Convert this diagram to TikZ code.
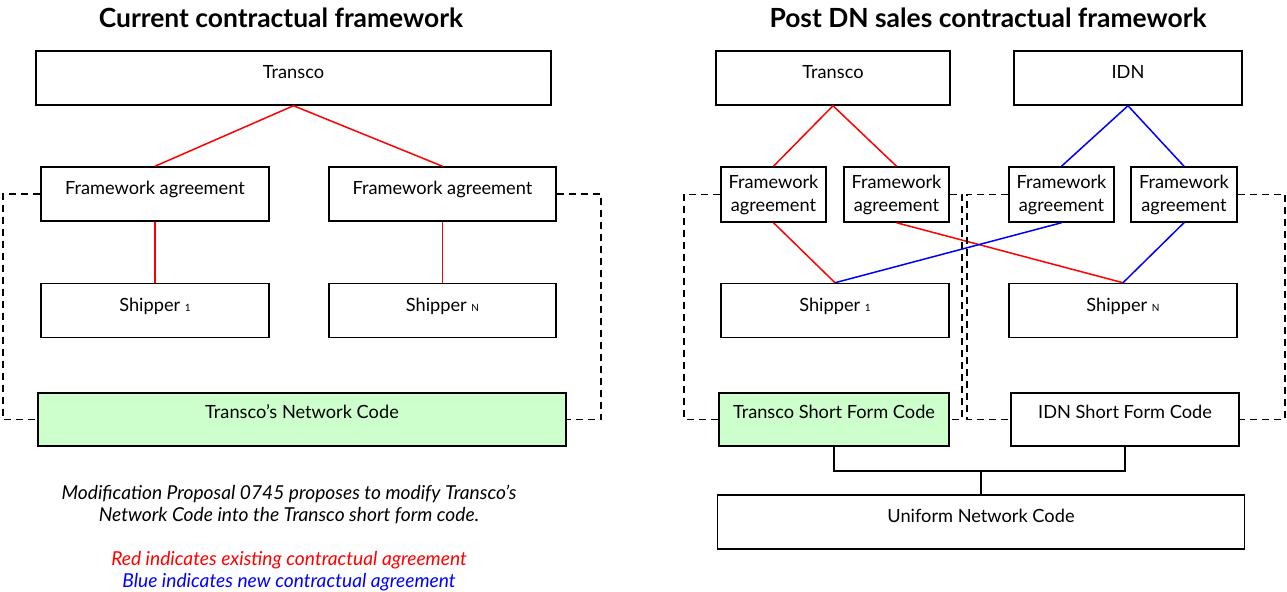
\documentclass[tikz,border=0pt]{standalone}
\usepackage{fontspec}
\setmainfont{Lato}
\usetikzlibrary{positioning,calc}
\definecolor{codegreen}{HTML}{CCFFCC}
\definecolor{oldred}{HTML}{FF0000}
\definecolor{newblue}{HTML}{0000FF}

\begin{document}
\begin{tikzpicture}[x=0.5pt, y=-0.5pt, line width=0.75pt,
    box/.style={draw, minimum width=#1, inner xsep=0pt, inner ysep=0pt, text height=14pt, text depth=13pt, font=\fontsize{9.1}{11.5}\selectfont},
    fabox/.style={draw, minimum width=52.5pt, minimum height=27.5pt, inner sep=1pt, align=center, font=\fontsize{9.1}{11.5}\selectfont},
    codebox/.style={box=#1, fill=codegreen, text height=13pt, text depth=13.5pt},
    title/.style={font=\fontsize{13.2}{15}\selectfont\bfseries},
    note/.style={align=center, font=\fontsize{9.6}{11}\selectfont\itshape},
    oldlink/.style={draw=oldred},
    newlink/.style={draw=newblue},
    dashlink/.style={draw, line width=0.9pt, dash pattern=on 3.5pt off 2.5pt}]
    \useasboundingbox (0,0) rectangle (1287,592);

    % current framework
    \node[title] (titleL) at (281,18) {Current contractual framework};
    \node[box=257.5pt] (tL) at (293.5,78) {Transco};
    \node[box=114pt] (faL1) at (155,194) {Framework agreement};
    \node[box=113.5pt] (faL2) at (442.5,194) {Framework agreement};
    \node[box=114pt] (shL1) at (155,310.5) {Shipper {\tiny 1}};
    \node[box=113.5pt] (shL2) at (442.5,310.5) {Shipper {\tiny N}};
    \node[codebox=264pt] (ncL) at (302,419.5) {Transco’s Network Code};

    \draw[oldlink] (tL.south) -- (faL1.north);
    \draw[oldlink] (tL.south) -- (faL2.north);
    \draw[oldlink] (faL1.south) -- (shL1.north);
    \draw[oldlink] (faL2.south) -- (shL2.north);

    \coordinate (dL) at (3,0);
    \coordinate (dR) at (601,0);
    \draw[dashlink] (faL1.west) -| (dL |- ncL.west) -- (ncL.west);
    \draw[dashlink] (faL2.east) -| (dR |- ncL.east) -- (ncL.east);

    \node[note] (mod) at (289,504) {Modification Proposal 0745 proposes to modify Transco’s\\Network Code into the Transco short form code.};
    \node[note, text=oldred] (keyred) at (289,560) {Red indicates existing contractual agreement};
    \node[note, text=newblue] (keyblue) at (289,582) {Blue indicates new contractual agreement};

    % post DN sales framework
    \node[title] (titleR) at (988,18) {Post DN sales contractual framework};
    \node[box=117pt] (tR) at (833,78) {Transco};
    \node[box=114pt] (idn) at (1128,78) {IDN};
    \node[fabox] (fa1) at (773.5,194.5) {Framework\\agreement};
    \node[fabox] (fa2) at (896.5,194.5) {Framework\\agreement};
    \node[fabox] (fa3) at (1061.5,194.5) {Framework\\agreement};
    \node[fabox, minimum width=53pt] (fa4) at (1184,194.5) {Framework\\agreement};
    \node[box=114pt] (sh1) at (835,310.5) {Shipper {\tiny 1}};
    \node[box=114pt] (shN) at (1123,310.5) {Shipper {\tiny N}};
    \node[codebox=115pt] (tsfc) at (834,419.5) {Transco Short Form Code};
    \node[codebox=114pt, fill=white] (isfc) at (1125,419.5) {IDN Short Form Code};
    \node[box=263.5pt] (unc) at (981,522) {Uniform Network Code};

    \draw[oldlink] (tR.south) -- (fa1.north);
    \draw[oldlink] (tR.south) -- (fa2.north);
    \draw[newlink] (idn.south) -- (fa3.north);
    \draw[newlink] (idn.south) -- (fa4.north);
    \draw[oldlink] (fa1.south) -- (sh1.north);
    \draw[oldlink] (fa2.south) -- (shN.north);
    \draw[newlink] (fa3.south) -- (sh1.north);
    \draw[newlink] (fa4.south) -- (shN.north);

    \coordinate (dA) at (684,0);
    \coordinate (dB) at (962,0);
    \coordinate (dC) at (967,0);
    \coordinate (dD) at (1285,0);
    \draw[dashlink] (fa1.west) -| (dA |- tsfc.west) -- (tsfc.west);
    \draw[dashlink] (fa2.east) -| (dB |- tsfc.east) -- (tsfc.east);
    \draw[dashlink] (fa3.west) -| (dC |- isfc.west) -- (isfc.west);
    \draw[dashlink] (fa4.east) -| (dD |- isfc.east) -- (isfc.east);

    \coordinate (join) at (981,471);
    \draw (tsfc.south) |- (join) -| (isfc.south);
    \draw (join) -- (unc.north);
\end{tikzpicture}
\end{document}
